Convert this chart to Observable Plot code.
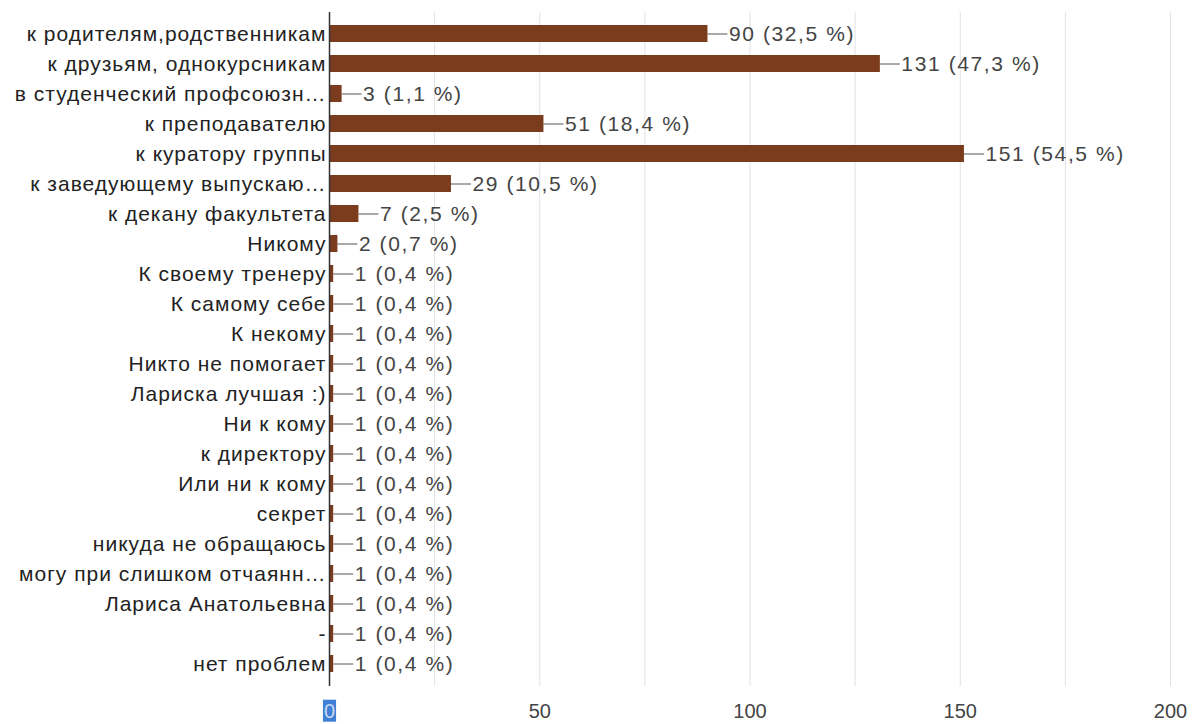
<!DOCTYPE html>
<html>
<head>
<meta charset="utf-8">
<script src="https://cdn.jsdelivr.net/npm/d3@7"></script>
<script src="https://cdn.jsdelivr.net/npm/@observablehq/plot@0.6"></script>
<style>
  html, body { margin: 0; padding: 0; background: #fff; }
  #chart svg { display: block; }
</style>
</head>
<body>
<div id="chart"></div>
<script>
const categories = [
  "к родителям,родственникам",
  "к друзьям, однокурсникам",
  "в студенческий профсоюзн…",
  "к преподавателю",
  "к куратору группы",
  "к заведующему выпускаю…",
  "к декану факультета",
  "Никому",
  "К своему тренеру",
  "К самому себе",
  "К некому",
  "Никто не помогает",
  "Лариска лучшая :)",
  "Ни к кому",
  "к директору",
  "Или ни к кому",
  "секрет",
  "никуда не обращаюсь",
  "могу при слишком отчаянн…",
  "Лариса Анатольевна",
  "-",
  "нет проблем"
];
const counts = [90, 131, 3, 51, 151, 29, 7, 2, 1, 1, 1, 1, 1, 1, 1, 1, 1, 1, 1, 1, 1, 1];
const percents = ["32,5", "47,3", "1,1", "18,4", "54,5", "10,5", "2,5", "0,7",
  "0,4", "0,4", "0,4", "0,4", "0,4", "0,4", "0,4", "0,4", "0,4", "0,4", "0,4", "0,4", "0,4", "0,4"];
const xTicks = [0, 50, 100, 150, 200];
const gridTicks = [25, 50, 75, 100, 125, 150, 175, 200];

const data = categories.map((c, i) => ({cat: c, value: counts[i], label: `${counts[i]} (${percents[i]} %)`}));

const font = "'Liberation Sans', Arial, sans-serif";

const chart = Plot.plot({
  width: 1192,
  height: 724,
  marginLeft: 329,
  marginRight: 22,
  marginTop: 5,
  marginBottom: 32,
  style: {fontFamily: font, fontSize: "20px", background: "#fff"},
  x: {domain: [0, 200], ticks: xTicks, tickSize: 0, tickPadding: 11, label: null},
  y: {domain: categories, padding: 0.44, tickSize: 0, tickPadding: 3, label: null},
  marks: [
    Plot.ruleX(gridTicks, {stroke: "#e2e2e2", strokeWidth: 1, insetTop: 7, insetBottom: 6}),
    Plot.barX(data, {y: "cat", x: "value", fill: "#7b3c1e"}),
    Plot.ruleY(data, {
      y: "cat", x1: "value", x2: "value", stroke: "#555", strokeWidth: 1,
      render: (index, scales, values, dims, context, next) => {
        const g = next(index, scales, values, dims, context);
        d3.select(g).selectAll("line").attr("x2", function() { return +this.getAttribute("x2") + 20; });
        return g;
      }
    }),
    Plot.text(data, {y: "cat", x: "value", text: "label", textAnchor: "start", dx: 21, fill: "#444", fontSize: 21}),
    Plot.ruleX([0], {stroke: "#333", strokeWidth: 1.5, insetTop: 7, insetBottom: 6}),
    Plot.axisX({ticks: xTicks, tickSize: 0, tickPadding: 11, color: "#444", fontSize: 20}),
    Plot.axisY({tickSize: 0, tickPadding: 3, color: "#222", fontSize: 21})
  ]
});

document.getElementById("chart").appendChild(chart);

const svg = d3.select(chart);
// wider letter spacing on category and value labels, as in the reference
svg.selectAll("[aria-label='y-axis tick label'] text").style("letter-spacing", "1px");
svg.selectAll("[aria-label='text'] text").style("letter-spacing", "1.6px");

// selection highlight on the "0" tick label as in the reference screenshot
svg.selectAll("[aria-label='x-axis tick label'] text").each(function() {
  if (this.textContent.trim() === "0") {
    const bb = this.getBBox();
    const parent = this.parentNode;
    const rect = document.createElementNS("http://www.w3.org/2000/svg", "rect");
    const t = this.getAttribute("transform");
    if (t) rect.setAttribute("transform", t);
    rect.setAttribute("x", bb.x - 1);
    rect.setAttribute("y", bb.y);
    rect.setAttribute("width", bb.width + 2);
    rect.setAttribute("height", bb.height);
    rect.setAttribute("fill", "#3f7fd6");
    parent.insertBefore(rect, this);
    this.setAttribute("fill", "#c8d8f0");
  }
});
</script>
</body>
</html>
